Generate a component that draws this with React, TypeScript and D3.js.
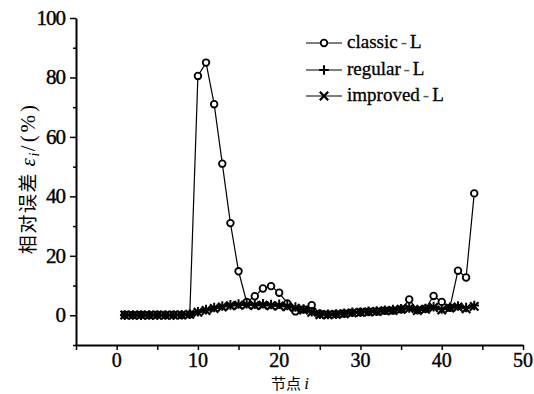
import * as d3 from "d3";
import { useEffect, useRef } from "react";

// node index i
const nodes = [
  1, 2, 3, 4, 5, 6, 7, 8, 9, 10, 11, 12, 13, 14, 15, 16, 17, 18, 19, 20, 21, 22,
  23, 24, 25, 26, 27, 28, 29, 30, 31, 32, 33, 34, 35, 36, 37, 38, 39, 40, 41, 42,
  43, 44,
];

// relative error (%) per series
const classicL = [
  0.2, 0.1, 0.2, 0.1, 0.2, 0.1, 0.2, 0.1, 0.3,
  80.5, 85, 71, 51, 31, 14.8, 4.5, 6.4, 9.0, 9.8, 7.6, 4.0, 1.3, 2.0, 3.4,
  0.5, 0.3, 0.4, 0.6, 0.9, 1.0, 1.2, 1.3, 1.5, 1.6, 2.0, 5.3, 1.8, 2.2, 6.5, 4.5,
  2.5, 15, 12.7, 41,
];
const regularL = [
  0, 0.1, 0, 0.1, 0, 0.1, 0, 0.2, 0.4,
  1.2, 1.9, 2.6, 3.1, 3.5, 3.8, 3.9, 3.7, 3.9, 3.6, 3.7, 3.3, 2.8, 2.1, 1.2,
  0.4, 0.3, 0.4, 0.7, 1.0, 1.1, 1.3, 1.4, 1.7, 1.9, 2.2, 2.5, 1.9, 2.3, 2.9, 2.1,
  2.7, 3.1, 2.6, 3.3,
];
const improvedL = [
  0.1, 0, 0.1, 0, 0.1, 0, 0.1, 0.1, 0.3,
  1.0, 1.6, 2.3, 2.8, 3.2, 3.4, 3.5, 3.3, 3.4, 3.2, 3.1, 2.9, 2.4, 1.8, 1.0,
  0.2, 0.2, 0.3, 0.5, 0.8, 1.0, 1.1, 1.3, 1.5, 1.6, 2.0, 2.3, 1.6, 2.0, 2.6, 1.8,
  2.4, 2.8, 2.2, 3.0,
];

const seriesNames = ["classic", "regular", "improved"];
const xTicks = [0, 10, 20, 30, 40, 50];
const yTicks = [0, 20, 40, 60, 80, 100];

const W = 534;
const H = 394;
const serif = "'Liberation Serif', 'Times New Roman', serif";
const cjk = "'Noto Sans CJK SC', sans-serif";

export default function App() {
  const svgRef = useRef<SVGSVGElement | null>(null);

  useEffect(() => {
    const svg = d3.select(svgRef.current);
    svg.selectAll("*").remove();

    const x = d3.scaleLinear().domain([-5, 50]).range([76, 523]);
    const y = d3.scaleLinear().domain([-10, 100]).range([345, 18]);

    // axes
    const gx = svg
      .append("g")
      .attr("transform", `translate(0,${y(-10)})`)
      .call(d3.axisBottom(x).tickValues(d3.range(-5, 51, 5)).tickSize(5).tickFormat(() => "").tickSizeOuter(0));
    gx.select(".domain").attr("stroke-width", 2);
    gx.selectAll(".tick line").attr("stroke-width", 1.5);

    const gy = svg
      .append("g")
      .attr("transform", `translate(${x(-5)},0)`)
      .call(d3.axisLeft(y).tickValues(d3.range(-10, 101, 10)).tickSize(3).tickFormat(() => "").tickSizeOuter(0));
    gy.select(".domain").attr("stroke-width", 2);
    gy.selectAll(".tick line")
      .attr("stroke-width", 1.5)
      .attr("x2", (d: any) => (d % 20 === 0 ? -6 : -3));

    svg
      .append("g")
      .selectAll("text")
      .data(xTicks)
      .join("text")
      .attr("x", (d) => x(d))
      .attr("y", 367)
      .attr("text-anchor", "middle")
      .style("font-family", serif)
      .style("font-size", "20px")
      .style("stroke", "#000")
      .style("stroke-width", 0.4)
      .text((d) => d);

    svg
      .append("g")
      .selectAll("text")
      .data(yTicks)
      .join("text")
      .attr("x", 65)
      .attr("y", (d) => y(d) + 7)
      .attr("text-anchor", "end")
      .style("font-family", serif)
      .style("font-size", "21px")
      .style("letter-spacing", "-1px")
      .style("stroke", "#000")
      .style("stroke-width", 0.4)
      .text((d) => d);

    // axis titles
    const xl = svg
      .append("text")
      .attr("x", 290)
      .attr("y", 389)
      .attr("text-anchor", "middle")
      .style("font-family", cjk)
      .style("font-size", "15px");
    xl.append("tspan").text("节点 ");
    xl.append("tspan").style("font-family", serif).style("font-style", "italic").style("font-size", "17px").text("i");

    const yl = svg
      .append("text")
      .attr("transform", "translate(35,178) rotate(-90)")
      .attr("text-anchor", "middle")
      .style("font-family", cjk)
      .style("font-size", "19px")
      .style("letter-spacing", "1.5px");
    yl.append("tspan").text("相对误差 ");
    yl.append("tspan").style("font-family", serif).style("font-style", "italic").style("font-size", "21px").text("ε");
    yl.append("tspan").style("font-family", serif).style("font-style", "italic").style("font-size", "14px").attr("dy", 4).text("i");
    yl.append("tspan").attr("dy", -4).style("font-family", serif).style("font-size", "21px").style("letter-spacing", "3px").text("/(%)");

    const line = d3
      .line<number>()
      .x((_, i) => x(nodes[i]))
      .y((d) => y(d));

    const drawMarker = (g: any, kind: string, cx: number, cy: number) => {
      if (kind === "classic") {
        g.append("circle")
          .attr("cx", cx)
          .attr("cy", cy)
          .attr("r", 3.3)
          .attr("fill", "#fff")
          .attr("stroke", "#000")
          .attr("stroke-width", 1.8);
      } else if (kind === "regular") {
        const s = 4.8;
        g.append("path")
          .attr("d", `M${cx - s},${cy}H${cx + s}M${cx},${cy - s}V${cy + s}`)
          .attr("stroke", "#000")
          .attr("stroke-width", 2);
      } else {
        const s = 4.2;
        g.append("path")
          .attr("d", `M${cx - s},${cy - s}L${cx + s},${cy + s}M${cx - s},${cy + s}L${cx + s},${cy - s}`)
          .attr("stroke", "#000")
          .attr("stroke-width", 2.2);
      }
    };

    const allSeries = [classicL, regularL, improvedL];
    allSeries.forEach((vals, si) => {
      const g = svg.append("g");
      g.append("path")
        .attr("d", line(vals))
        .attr("fill", "none")
        .attr("stroke", "#000")
        .attr("stroke-width", si === 0 ? 1.2 : 2);
      vals.forEach((v, i) => drawMarker(g, seriesNames[si], x(nodes[i]), y(v)));
    });

    // legend
    const legY = [43, 70, 96];
    seriesNames.forEach((name, i) => {
      const g = svg.append("g");
      g.append("line")
        .attr("x1", 306)
        .attr("x2", 342)
        .attr("y1", legY[i])
        .attr("y2", legY[i])
        .attr("stroke", "#000")
        .attr("stroke-width", 1.2);
      drawMarker(g, name, 324, legY[i]);
      const t = g
        .append("text")
        .attr("x", 347)
        .attr("y", legY[i] + 5)
        .style("font-family", serif)
        .style("font-size", "19px")
        .style("stroke", "#000")
        .style("stroke-width", 0.3);
      t.append("tspan").text(name);
      t.append("tspan").attr("dx", 3).attr("fill", "#555").style("stroke", "none").text("-");
      t.append("tspan").attr("dx", 3).text("L");
    });
  }, []);

  return (
    <svg
      ref={svgRef}
      width={W}
      height={H}
      style={{ position: "absolute", left: 0, top: 0, background: "#fff" }}
    ></svg>
  );
}
